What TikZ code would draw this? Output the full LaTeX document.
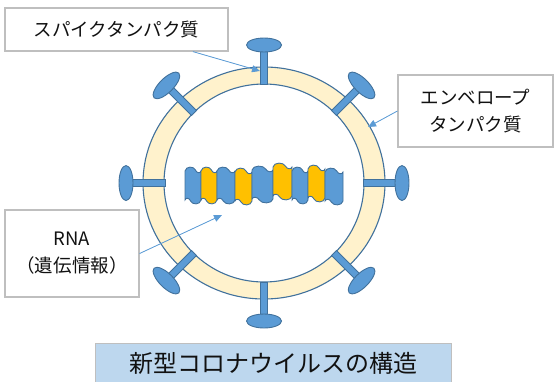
\documentclass[tikz,border=0pt]{standalone}
\usepackage{fontspec}
\setmainfont{Noto Sans CJK JP}
\usetikzlibrary{arrows.meta}
\definecolor{paper}{HTML}{FFFFFF}
\definecolor{ink}{HTML}{111111}
\definecolor{frame}{HTML}{BFBFBF}
\definecolor{capsid}{HTML}{FFF2CC}
\definecolor{prot}{HTML}{5B9BD5}
\definecolor{protedge}{HTML}{41719C}
\definecolor{base}{HTML}{FFC000}
\definecolor{banner}{HTML}{BDD7EE}
\newcommand{\Cx}{264}
\newcommand{\Cy}{183}
\newcommand{\StrandTop}{170}
\newcommand{\StrandBot}{201}

\begin{document}
\begin{tikzpicture}[
    x=1bp, y=-1bp, ink,
    spike/.style={fill=prot, draw=protedge, line width=0.9bp},
    piece/.style={draw=protedge, line width=0.9bp},
    pointer/.style={-{Triangle[length=8bp, width=7bp]}, line width=0.8bp, draw=prot, fill=prot},
    labelbox/.style={draw=frame, line width=1.2bp, fill=paper, align=center, inner sep=0pt, font=\fontsize{18.5bp}{27bp}\selectfont},
  ]
\useasboundingbox (0,0) rectangle (554,381);

% --- Envelope: a cream ring ---------------------------------------------------
\filldraw[fill=capsid, draw=protedge, line width=1.1bp, even odd rule]
  (\Cx,\Cy) ellipse [x radius=121, y radius=116]
  (\Cx,\Cy) ellipse [x radius=100, y radius=99];

% --- Spikes: a stem through the ring and an oval head, every 45 degrees ------
\foreach \a in {0,45,...,315} {
  \begin{scope}[shift={(\Cx,\Cy)}, rotate=\a]
    \filldraw[spike] (99,-3.5) -- (134,-3.5) -- (134,3.5) -- (99,3.5) -- cycle;
    \filldraw[spike] (138,0) ellipse [x radius=7, y radius=17.5];
  \end{scope}
}

% --- RNA strand: blue and yellow pieces with wavy, twisted edges -------------
\foreach \xa/\xb/\col/\dy in {185/201/prot/0, 201/217/base/0, 217/235/prot/0, 235/252/base/1, 252/273/prot/-1, 273/292/base/-4, 292/308/prot/0, 308/325/base/-2, 325/343/prot/1} {
  \pgfmathsetmacro{\t}{\StrandTop+\dy}
  \pgfmathsetmacro{\b}{\StrandBot+\dy}
  \pgfmathsetmacro{\w}{\xb-\xa}
  \filldraw[piece, fill=\col]
    (\xa,\t+1) .. controls (\xa+1,\t-4) and (\xa+0.55*\w,\t-4) .. (\xa+0.65*\w,\t)
    .. controls (\xa+0.75*\w,\t+3.5) and (\xb-1,\t+3.5) .. (\xb,\t+1)
    -- (\xb,\b-1) .. controls (\xb-1,\b+4) and (\xb-0.55*\w,\b+4) .. (\xb-0.65*\w,\b)
    .. controls (\xb-0.75*\w,\b-3.5) and (\xa+1,\b-3.5) .. (\xa,\b-1) -- cycle;
}

% --- Labels and their pointers -----------------------------------------------
\node[labelbox, minimum width=223bp, minimum height=43bp] (spikebox) at (116.5,29.5) {スパイクタンパク質};
\node[labelbox, minimum width=155bp, minimum height=72bp] (envbox) at (475.5,111) {エンベロープ\\タンパク質};
\node[labelbox, minimum width=134bp, minimum height=87bp] (rnabox) at (72,253.5) {RNA\\（遺伝情報）};

\coordinate (spiketip) at (260,71);
\coordinate (envtip) at (368,127);
\coordinate (rnatip) at (222,215);
\draw[pointer] (spikebox) -- (spiketip);
\draw[pointer] (envbox.west) -- (envtip);
\draw[pointer] (rnabox.east) -- (rnatip);

% --- Caption banner ------------------------------------------------------------
\node[fill=banner, draw=frame, line width=0.6bp, minimum width=356bp, minimum height=40bp, inner sep=0pt,
  font=\fontsize{24bp}{27bp}\selectfont] (caption) at (273,363) {新型コロナウイルスの構造};

\end{tikzpicture}
\end{document}
